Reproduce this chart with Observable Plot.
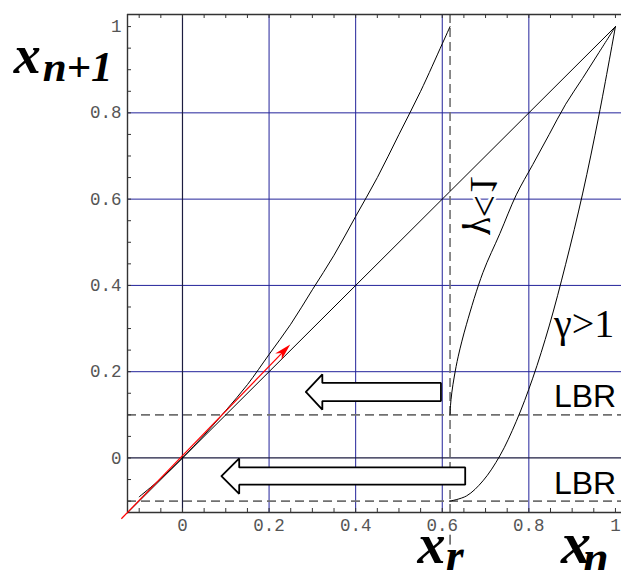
<!DOCTYPE html>
<html>
<head>
<meta charset="utf-8">
<script src="https://cdn.jsdelivr.net/npm/d3@7"></script>
<script src="https://cdn.jsdelivr.net/npm/@observablehq/plot@0.6"></script>
<style>
  body { margin: 0; background: #fff; }
</style>
</head>
<body>
<script>
// Return map x_{n+1} = f(x_n): fixed point at 0, reinjection at x_r.

// Axis extents and ticks
const xDomain = [-0.127, 1.014];
const yDomain = [-0.1264, 1.028];
const majorTicks = [0, 0.2, 0.4, 0.6, 0.8, 1];
const tickLabels = ["0", "0.2", "0.4", "0.6", "0.8", "1"];
const minorTicks = [-0.1, -0.05, 0, 0.05, 0.1, 0.15, 0.2, 0.25, 0.3, 0.35, 0.4, 0.45, 0.5,
                    0.55, 0.6, 0.65, 0.7, 0.75, 0.8, 0.85, 0.9, 0.95, 1];
const gridLines = [0.2, 0.4, 0.6, 0.8];
const axisLines = [0];

// Reinjection point and lower-boundary-of-reinjection levels
const xr = 0.618;
const lbrLevels = [0.1, -0.1];

// Identity x_{n+1} = x_n
const diagX = [-0.127, 1];
const diagY = [-0.127, 1];

// Laminar branch near the marginal fixed point
const lamX = [-0.1, -0.05, 0, 0.05, 0.1, 0.15, 0.2, 0.25, 0.3, 0.35, 0.4, 0.45, 0.5, 0.55, 0.6, 0.618];
const lamY = [-0.09, -0.048, 0, 0.053, 0.11, 0.17, 0.24, 0.31, 0.39, 0.47, 0.56, 0.65, 0.75, 0.85, 0.96, 1.0];

// Reinjection branch, gamma < 1 (starts at LBR = 0.1)
const ltX = [0.618, 0.619, 0.622, 0.628, 0.637, 0.656, 0.694, 0.733, 0.771, 0.809, 0.847, 0.885, 0.924, 0.962, 1];
const ltY = [0.10, 0.121, 0.151, 0.19, 0.236, 0.31, 0.43, 0.52, 0.61, 0.68, 0.75, 0.82, 0.88, 0.94, 1];

// Reinjection branch, gamma > 1 (starts at LBR = -0.1)
const gtX = [0.618, 0.656, 0.694, 0.733, 0.771, 0.809, 0.847, 0.885, 0.924, 0.962, 1];
const gtY = [-0.1, -0.088, -0.053, 0.005, 0.085, 0.185, 0.306, 0.449, 0.612, 0.795, 1];

// Red tangent arrow at the origin
const tangentX = [-0.14, 0.25];
const tangentY = [-0.142, 0.262];

// Block arrows pointing back toward the laminar region
const arrowTail = [0.597, 0.653];
const arrowBase = [0.323, 0.131];
const arrowTip = [0.285, 0.09];
const arrowMid = [0.153, -0.042];
const arrowHead = [0.041, 0.041];
const arrowBody = [0.021, 0.02];

const lbrLabels = ["LBR", "LBR"];
const lbrLabelY = [0.117, -0.084];

const curve = (xs, ys, id) => xs.map((x, i) => ({x, y: ys[i], id}));

const blockPoints = arrowTail.flatMap((tail, i) => {
  const c = arrowMid[i], hh = arrowHead[i], bh = arrowBody[i];
  const b = arrowBase[i], t = arrowTip[i];
  return [
    [t, c], [b, c + hh], [b, c + bh], [tail, c + bh],
    [tail, c - bh], [b, c - bh], [b, c - hh], [t, c]
  ].map(([x, y]) => ({x, y, id: i}));
});

const serifBI = {fontFamily: "Liberation Serif", fontWeight: "bold", fontStyle: "italic",
                 textAnchor: "start", lineAnchor: "bottom", fill: "black"};

const plot = Plot.plot({
  width: 621,
  height: 570,
  marginLeft: 127,
  marginRight: 0,
  marginTop: 14,
  marginBottom: 58,
  style: {fontFamily: "Liberation Sans", background: "white", overflow: "visible"},
  x: {domain: xDomain},
  y: {domain: yDomain},
  marks: [
    // grid
    Plot.ruleX(gridLines, {stroke: "#23239a", strokeWidth: 1}),
    Plot.ruleY(gridLines, {stroke: "#23239a", strokeWidth: 1}),
    Plot.ruleX(axisLines, {stroke: "#1c1c40", strokeWidth: 1.2}),
    Plot.ruleY(axisLines, {stroke: "#1c1c40", strokeWidth: 1.2}),
    // dashed guides
    Plot.ruleY(lbrLevels, {stroke: "#707070", strokeWidth: 1.6, strokeDasharray: "9,5"}),
    Plot.ruleX([xr], {stroke: "#707070", strokeWidth: 1.6, strokeDasharray: "9,5"}),
    // frame (left, top, bottom) with inward ticks
    Plot.ruleX([xDomain[0]], {stroke: "#333", strokeWidth: 1.4}),
    Plot.ruleY([yDomain[0], yDomain[1]], {stroke: "#333", strokeWidth: 1.4}),
    Plot.ruleX(minorTicks, {stroke: "#333", strokeWidth: 1, insetTop: 494}),
    Plot.ruleX(minorTicks, {stroke: "#333", strokeWidth: 1, insetBottom: 494}),
    Plot.ruleY(minorTicks, {stroke: "#333", strokeWidth: 1, insetRight: 490}),
    // tick labels
    Plot.axisX({anchor: "bottom", ticks: majorTicks, tickFormat: (d, i) => tickLabels[i],
                tickSize: 0, tickPadding: 6, label: null, fontFamily: "Liberation Mono",
                fontSize: 17.5, color: "#555", fill: "#555"}),
    Plot.axisY({anchor: "left", ticks: majorTicks, tickFormat: (d, i) => tickLabels[i],
                tickSize: 0, tickPadding: 6, label: null, fontFamily: "Liberation Mono",
                fontSize: 17.5, color: "#555", fill: "#555"}),
    // map branches
    Plot.line(curve(diagX, diagY, "diag"), {x: "x", y: "y", stroke: "black", strokeWidth: 1}),
    Plot.line(curve(lamX, lamY, "lam"), {x: "x", y: "y", stroke: "black", strokeWidth: 1, curve: "catmull-rom"}),
    Plot.line(curve(ltX, ltY, "lt"), {x: "x", y: "y", stroke: "black", strokeWidth: 1, curve: "catmull-rom"}),
    Plot.line(curve(gtX, gtY, "gt"), {x: "x", y: "y", stroke: "black", strokeWidth: 1, curve: "catmull-rom"}),
    // block arrows
    Plot.line(blockPoints, {x: "x", y: "y", z: "id", fill: "white", stroke: "black",
                            strokeWidth: 1.8, strokeLinejoin: "miter"}),
    // red tangent arrow with a filled head
    (index, scales) => {
      const {x, y} = scales;
      const x1 = x(tangentX[0]), y1 = y(tangentY[0]);
      const x2 = x(tangentX[1]), y2 = y(tangentY[1]);
      const a = Math.atan2(y2 - y1, x2 - x1);
      const L = 17, W = 4.5, N = 12;
      const ux = Math.cos(a), uy = Math.sin(a);
      const px = -uy, py = ux;
      const g = d3.create("svg:g");
      g.append("line")
        .attr("x1", x1).attr("y1", y1)
        .attr("x2", x2 - ux * N).attr("y2", y2 - uy * N)
        .attr("stroke", "#ff0000").attr("stroke-width", 1.2);
      const bx = x2 - ux * L, by = y2 - uy * L;
      const nx = x2 - ux * N, ny = y2 - uy * N;
      g.append("path")
        .attr("d", `M${x2},${y2}L${bx + px * W},${by + py * W}L${nx},${ny}L${bx - px * W},${by - py * W}Z`)
        .attr("fill", "#ff0000");
      return g.node();
    },
    // labels
    Plot.text(lbrLabels, {x: 0.858, y: (d, i) => lbrLabelY[i], text: d => d, fontSize: 32,
                          fontFamily: "Liberation Sans", textAnchor: "start", lineAnchor: "bottom", fill: "black"}),
    Plot.text(["γ>1"], {x: 0.858, y: 0.28, text: d => d, fontSize: 40, fontFamily: "Liberation Serif",
                        textAnchor: "start", lineAnchor: "bottom", fill: "black"}),
    (index, scales) => {
      const {x, y} = scales;
      const tx = x(0.668), ty = y(0.5155);
      const t = d3.create("svg:text")
        .attr("transform", `matrix(0,-1,-1,0,${tx},${ty})`)
        .attr("text-anchor", "start")
        .attr("font-family", "Liberation Serif")
        .attr("font-size", 40)
        .attr("fill", "black")
        .attr("stroke", "white")
        .attr("stroke-width", 5)
        .attr("paint-order", "stroke")
        .text("γ<1");
      return t.node();
    },
    // axis titles x_{n+1}, x_r, x_n
    Plot.text(["x"], {...serifBI, x: -0.39, y: 0.893, text: d => d, fontSize: 54}),
    Plot.text(["n+1"], {...serifBI, x: -0.323, y: 0.874, text: d => d, fontSize: 43}),
    Plot.ruleX([xr], {y1: -0.179, y2: -0.202, stroke: "black", strokeWidth: 1}),
    Plot.text(["x"], {...serifBI, x: 0.543, y: -0.244, text: d => d, fontSize: 56}),
    Plot.text(["r"], {...serifBI, x: 0.608, y: -0.262, text: d => d, fontSize: 46}),
    Plot.text(["x"], {...serifBI, x: 0.874, y: -0.244, text: d => d, fontSize: 60}),
    Plot.text(["n"], {...serifBI, x: 0.925, y: -0.267, text: d => d, fontSize: 46})
  ]
});

document.body.appendChild(plot);
</script>
</body>
</html>
